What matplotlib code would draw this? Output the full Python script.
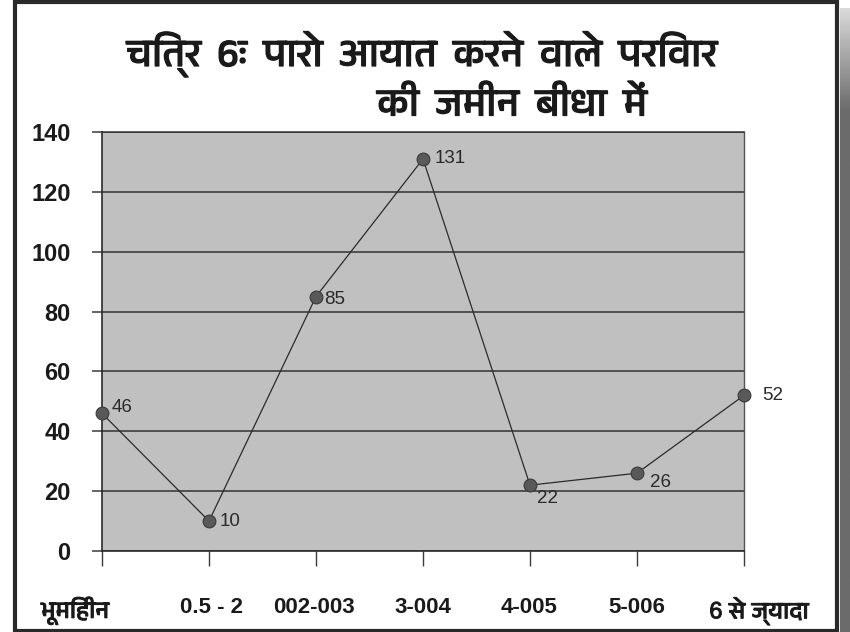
import matplotlib
matplotlib.use("Agg")
import matplotlib.pyplot as plt
import matplotlib.patheffects as pe
import numpy as np
from matplotlib import font_manager as fm
from matplotlib.ft2font import FT2Font
from matplotlib.patches import Rectangle
from matplotlib.transforms import ScaledTranslation

# Data
categories = ["भूमिहीन", "0.5 - 2", "002-003", "3-004", "4-005", "5-006", "6 से ज्यादा"]
households = [46, 10, 85, 131, 22, 26, 52]
y_ticks = [0, 20, 40, 60, 80, 100, 120, 140]
title_line1 = "चित्र  6ः  पारो  आयात  करने  वाले  परिवार"
title_line2 = "की  जमीन  बीधा  में"


def find_devanagari_family():
    """Return the name of an installed family that covers Devanagari."""
    candidates = sorted(fm.fontManager.ttflist,
                        key=lambda f: (0 if "Devanagari" in f.name else 1, f.name))
    for f in candidates:
        try:
            font = FT2Font(f.fname)
            if font.get_char_index(ord("क")) and font.get_char_index(ord("म")):
                return f.name
        except Exception:
            continue
    return None


deva = find_devanagari_family()
deva_list = [deva] if deva else []
latin = ["Liberation Sans", "DejaVu Sans"]
deva_family = deva_list + latin
mixed_family = ["Liberation Sans"] + deva_list + ["DejaVu Sans"]
plt.rcParams["font.family"] = mixed_family

# fake-bold outline for the Devanagari text (the family ships one weight)
def heavy(width, color="#1a1a1a"):
    return [pe.withStroke(linewidth=width, foreground=color)]


fig = plt.figure(figsize=(8.5, 6.32), dpi=100)
W, H = 850, 632

# Page frame with a soft shadow on the right
shadow_ax = fig.add_axes([840 / W, 0, 10 / W, (H - 8) / H])
grad = np.concatenate([np.linspace(0.85, 0.42, 40), np.full(200, 0.42)])[:, None]
shadow_ax.imshow(grad, cmap="gray", vmin=0, vmax=1, aspect="auto",
                 extent=[0, 1, 0, 1], origin="upper")
shadow_ax.axis("off")
fig.add_artist(Rectangle((14.5 / W, 1.5 / H), (837 - 14.5) / W, (630 - 1.5) / H,
                         transform=fig.transFigure, fill=False,
                         edgecolor="#2a2a2a", linewidth=3.0))

ax = fig.add_axes([102 / W, 1 - 551 / H, (744 - 102) / W, (551 - 132) / H])
ax.set_facecolor("#c0c0c0")

x = np.arange(len(categories))
ax.plot(x, households, color="#2b2b2b", linewidth=0.9, zorder=3,
        marker="o", markersize=9.2, markerfacecolor="#595959",
        markeredgecolor="#3a3a3a", markeredgewidth=0.8, clip_on=False)

# value labels beside each point (offsets in pixels)
label_offsets = [(10, 6), (11, 0), (8, -3), (12, 0), (7, -13), (13, -9), (18, 0)]
for xi, v, (dx, dy) in zip(x, households, label_offsets):
    ax.annotate(str(v), (xi, v), xytext=(dx * 0.72, dy * 0.72),
                textcoords="offset points", ha="left", va="center",
                fontsize=13.5, color="#2a2a2a", family=latin)

ax.set_xlim(0, len(categories) - 1)
ax.set_ylim(0, 140)
ax.set_yticks(y_ticks)
ax.set_yticklabels([str(t) for t in y_ticks], fontsize=17, fontweight="bold",
                   family=latin, color="#1a1a1a")
ax.set_xticks(x)
ax.set_xticklabels(categories, fontsize=16, fontweight="bold",
                   family=mixed_family, color="#1a1a1a")
ax.yaxis.grid(True, color="#333333", linewidth=1.1)
ax.set_axisbelow(True)
ax.tick_params(axis="y", direction="out", length=7.5, width=1.1, color="#3c3c3c", pad=15)
ax.tick_params(axis="x", direction="out", length=11, width=1.0, color="#3c3c3c", pad=22)

for side in ["left", "bottom"]:
    ax.spines[side].set_color("#2a2a2a")
    ax.spines[side].set_linewidth(1.2)
ax.spines["right"].set_color("#555555")
ax.spines["right"].set_linewidth(1.0)
ax.spines["top"].set_color("#333333")
ax.spines["top"].set_linewidth(1.1)

# nudge the outer category labels outward; thicken the Devanagari ones
labels = ax.get_xticklabels()
shifts = [-27, 2, -2, 0, -1, 0, 15]
for i, (lab, s) in enumerate(zip(labels, shifts)):
    lab.set_transform(lab.get_transform() + ScaledTranslation(s / 100, 0, fig.dpi_scale_trans))
    if i in (0, len(labels) - 1):
        lab.set_fontsize(17)
        lab.set_fontweight("normal")
        lab.set_path_effects(heavy(0.7))

fig.text(422 / W, 1 - 54 / H, title_line1, ha="center", va="center",
         fontsize=28, family=deva_family, color="#1a1a1a", path_effects=heavy(0.9))
fig.text(512 / W, 1 - 105 / H, title_line2, ha="center", va="center",
         fontsize=28, family=deva_family, color="#1a1a1a", path_effects=heavy(0.9))

fig.savefig("out.png", dpi=100, facecolor="white")
